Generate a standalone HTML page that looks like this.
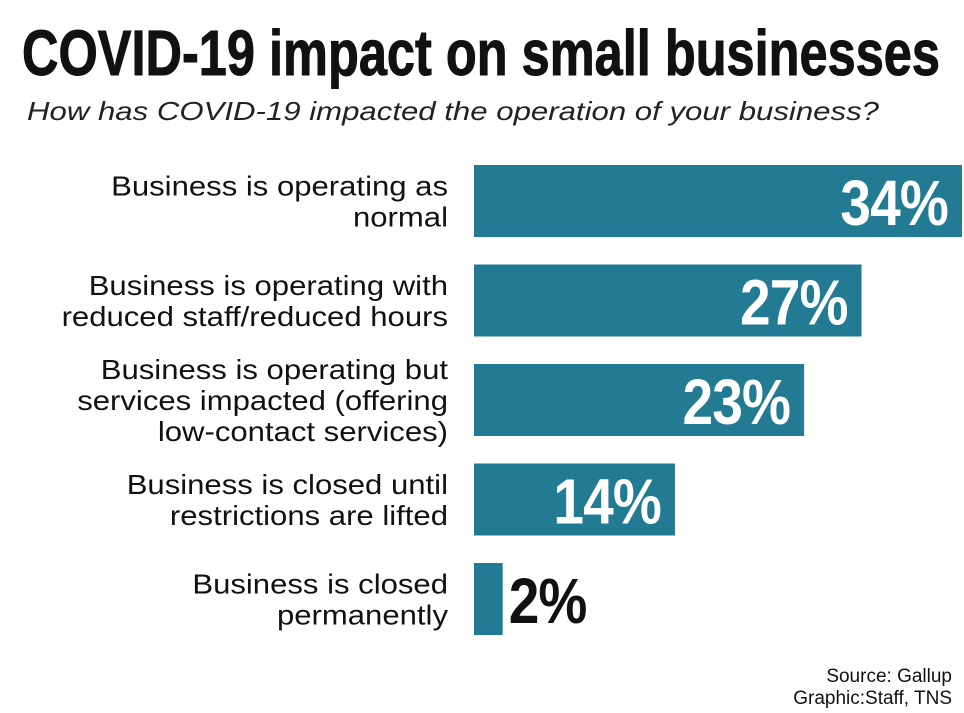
<!DOCTYPE html>
<html><head><meta charset="utf-8"><style>
body{margin:0;background:#fff;}
svg{display:block;font-family:"Liberation Sans",sans-serif;}
</style></head><body>
<svg id="chart" width="964" height="713" viewBox="0 0 964 713">
<text x="22" y="75" font-size="64" font-weight="bold" textLength="918" lengthAdjust="spacingAndGlyphs" fill="#111" stroke="#111" stroke-width="1">COVID-19 impact on small businesses</text>
<text x="27" y="120" font-size="26" font-style="italic" textLength="852" lengthAdjust="spacingAndGlyphs" fill="#222">How has COVID-19 impacted the operation of your business?</text>
<g id="bars"></g>
<text x="952" y="682" font-size="19" text-anchor="end" fill="#111">Source: Gallup</text>
<text x="952" y="704" font-size="19" text-anchor="end" fill="#111">Graphic:Staff, TNS</text>
</svg>
<script>
const categories=[
 ["Business is operating as","normal"],
 ["Business is operating with","reduced staff/reduced hours"],
 ["Business is operating but","services impacted (offering","low-contact services)"],
 ["Business is closed until","restrictions are lifted"],
 ["Business is closed","permanently"]
];
const values=[34,27,23,14,2];
const valueLabels=["34%","27%","23%","14%","2%"];
const NS="http://www.w3.org/2000/svg";
const g=document.getElementById('bars');
const x0=474, scale=488/34;
function xPos(v){return x0+v*scale;}
function yPos(i){return 165+i*99.5;}
const bh=72;
function mk(t,a){const e=document.createElementNS(NS,t);for(const k in a)e.setAttribute(k,a[k]);return e;}
values.forEach((v,i)=>{
 const y=yPos(i);
 const r=mk('rect',{x:x0,y:y,width:xPos(v)-x0,height:bh,fill:'#237a93'});
 
 
 g.appendChild(r);
 const inside=(xPos(v)-x0)>80;
 const ax=inside?xPos(v)-14:xPos(v)+6;
 const t=mk('text',{x:ax,y:y+60,'font-size':64,'font-weight':'bold','text-anchor':inside?'end':'start',fill:inside?'#fff':'#111',
 transform:`translate(${ax},0) scale(0.86,1) translate(${-ax},0)`,'letter-spacing':'-1'});
 t.textContent=valueLabels[i];
 
 
 g.appendChild(t);
 const lines=categories[i];
 const lh=31;
 const cy=y+bh/2;
 lines.forEach((ln,j)=>{
  const tt=mk('text',{x:448,y:cy-(lines.length-1)*lh/2+j*lh+10,'font-size':28,'text-anchor':'end',fill:'#111',
   transform:'translate(448,0) scale(1.11,1) translate(-448,0)'});
  tt.textContent=ln;
  
  
  g.appendChild(tt);
 });
});
</script>
</body></html>
